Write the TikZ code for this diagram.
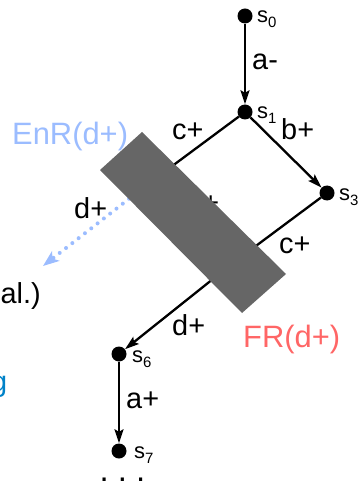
\documentclass[tikz,border=0pt]{standalone}
\usepackage{fontspec}
\setmainfont{Liberation Sans}
\usetikzlibrary{arrows.meta}
\definecolor{enr}{RGB}{155,188,255}
\definecolor{frc}{RGB}{255,102,102}
\definecolor{gblue}{RGB}{0,130,200}
\definecolor{boxgray}{RGB}{102,102,102}
\newcommand{\stname}[1]{s\raisebox{-5bp}{\fontsize{15}{15}\selectfont #1}}
\begin{document}
\begin{tikzpicture}[x=1bp,y=-1bp,
  state/.style={circle,fill=black,minimum size=15bp,inner sep=0},
  trans/.style={line width=2.3bp,-{Stealth[length=14bp,width=9bp,inset=2.5bp]}},
  plain/.style={line width=2.3bp},
  lbl/.style={inner sep=0,anchor=base west,font=\fontsize{29}{29}\selectfont},
  big/.style={inner sep=0,anchor=base west,font=\fontsize{31}{31}\selectfont},
  sname/.style={inner sep=0,anchor=base west,font=\fontsize{22}{22}\selectfont}]
\useasboundingbox (0,0) rectangle (359,482);
% states
\node[state] (s0) at (245,16) {};
\node[state] (s1) at (245,112) {};
\node[state] (s3) at (327,193) {};
\node[state] (s6) at (119,354) {};
\node[state] (s7) at (119,451) {};
\coordinate (s2) at (148,184);
\coordinate (s4) at (233,263);
\coordinate (enrend) at (43,266);
% state names
\node[sname] (n0) at (257,23) {\stname{0}};
\node[sname] (n1) at (257,119) {\stname{1}};
\node[sname] (n3) at (339,200) {\stname{3}};
\node[sname] (n6) at (132,362) {\stname{6}};
\node[sname] (n7) at (134,458) {\stname{7}};
% transitions
\draw[trans] (s0) -- (s1);
\draw[trans] (s1) -- (s3);
\draw[plain] (s1) -- (s2);
\draw[plain] (s3) -- (s4);
\draw[trans] (s4) -- (s6);
\draw[trans] (s6) -- (s7);
\draw[enr,line width=4bp,line cap=round,dash pattern=on 0bp off 8bp,
  -{Stealth[length=16bp,width=12bp,inset=4bp]}] (s2) -- (enrend);
% hidden label under the box
\node[lbl] (hid) at (186,212) {b+};
% the box
\fill[boxgray] (100,170) -- (142,132) -- (286,274) -- (242,313) -- cycle;
% labels
\node[lbl] (la) at (252,70) {a-};
\node[lbl] (lc1) at (172,140) {c+};
\node[lbl] (lb) at (281,140) {b+};
\node[lbl] (lc2) at (279,253) {c+};
\node[lbl] (ld1) at (172,335) {d+};
\node[lbl] (la2) at (126,408) {a+};
\node[lbl] (ld2) at (74,218) {d+};
\node[big,text=enr] (enr) at (12,145) {EnR(d+)};
\node[big,text=frc] (fr) at (243,347) {FR(d+)};
\node[lbl,anchor=base east] (al) at (41,303) {al.)};
\node[lbl,text=gblue] (g) at (-9,391) {g};
\node[inner sep=0,anchor=base west,font=\fontsize{33}{33}\selectfont] (dots) at (99.5,481) {.\ .\ .};
\end{tikzpicture}
\end{document}
